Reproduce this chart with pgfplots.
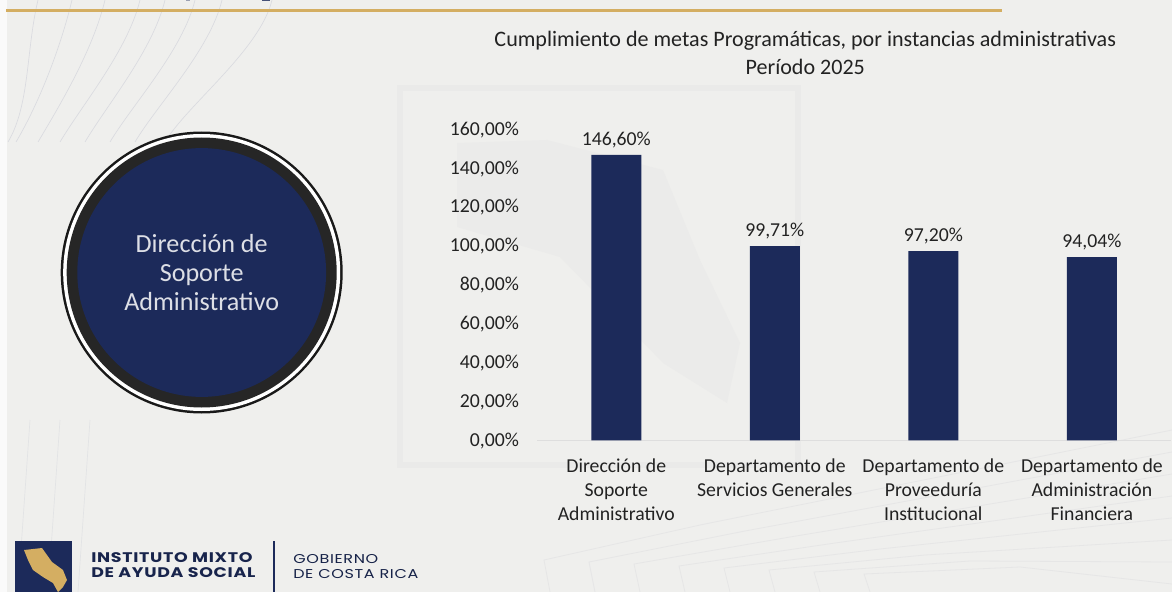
\documentclass[border=0pt]{standalone}
\usepackage{fontspec}
\setmainfont{Carlito}
\newfontfamily\logofont[LetterSpace=5,FakeStretch=1.25]{Poppins}
\usepackage{pgfplots}
\pgfplotsset{compat=1.18}
\definecolor{navy}{HTML}{1C2A5A}
\definecolor{paper}{HTML}{EFEFED}
\definecolor{gold}{HTML}{D4AE62}
\definecolor{ink}{HTML}{222222}
\definecolor{faint}{HTML}{E6E6E6}
\definecolor{strokegrey}{HTML}{DADBE0}
\begin{document}
\begin{tikzpicture}
% page, in pixels of the reference with y downwards
\begin{scope}[x=0.75pt,y=-0.75pt]
  \path[use as bounding box] (0,0) rectangle (1172,592);
  \fill[paper] (0,0) rectangle (1172,592);
  \fill[white!70!paper] (0,0) rectangle (7,592);
  % watermark
  \draw[faint!60!paper,line width=4pt] (400,88) rectangle (798,465);
  \fill[faint!40!paper] (457,143) -- (547,140) -- (663,170) -- (700,260) -- (740,343) -- (727,403) -- (663,363) -- (560,257) -- (457,227) -- cycle;
  % background strokes, top left
  \foreach \a/\b in {8/38,16/72,38/105,60/140,85/165,110/195,135/222,165/272}{
    \draw[strokegrey,line width=0.5pt] (\a,142) .. controls (\a+22,105) and (\b-12,50) .. (\b,0);
  }
  \foreach \i in {0,30,60}
    \draw[strokegrey!60!paper,line width=0.5pt] (30+\i,420) -- (18+\i,592);
  % background strokes, bottom right
  \foreach \i/\x in {0/550,1/595,2/640,3/685,4/730,5/775,6/820,7/870}{
    \draw[faint,line width=0.6pt] (\x,592) -- (\x-6,560+\i*2) -- (\x+150,525+\i*6) -- (1172,430+\i*22);
  }
  % gold rule and what is left of the heading above it
  \fill[gold] (6,9) rectangle (1002,12);
  \fill[navy!40!paper] (186,0) rectangle (190,1);
  \fill[navy!80!paper] (262,0) rectangle (270,1);
  % circle
  \fill[black!90] (201.7,272.5) circle (141);
  \fill[white] (201.7,272.5) circle (138.5);
  \fill[black!85] (201.7,272.5) circle (135);
  \fill[navy] (201.7,272.5) circle (124.4);
  \node[text=white!85!navy,font=\fontsize{19.6}{21.75}\selectfont,align=center] at (201.7,272.5) {Dirección de\\Soporte\\Administrativo};
  % logo
  \fill[navy] (15,541) rectangle (72,592);
  \begin{scope}
    \clip (15,541) rectangle (72,592);
    \fill[gold] (24,550) -- (42,548) -- (52,562) -- (63,570) -- (67,580) -- (63,587) -- (58,592) -- (53,583) -- (43,577) -- (33,570) -- (28,560) -- cycle;
  \end{scope}
  \draw[navy,line width=1pt] (274,541) -- (274,592);
  \node[anchor=west,inner sep=0pt,text=navy!85!black,align=left,font=\logofont\bfseries\fontsize{10.45}{11.25}\selectfont] at (91,565.5) {INSTITUTO MIXTO\\DE AYUDA SOCIAL};
  \node[anchor=west,inner sep=0pt,text=navy!80!black,align=left,font=\logofont\fontsize{9.6}{11.25}\selectfont] at (293,567) {GOBIERNO\\DE COSTA RICA};
\end{scope}
\begin{axis}[
  at={(402.75pt,-330.2pt)},
  anchor=south west,
  scale only axis,
  width=475.6pt,
  height=233.6pt,
  ybar,
  bar width=37.5pt,
  xmin=-0.5, xmax=3.5,
  ymin=0, ymax=160,
  ytick={0,20,...,160},
  xtick=data,
  xticklabels={Dirección de\\Soporte\\Administrativo,Departamento de\\Servicios Generales,Departamento de\\Proveeduría\\Institucional,Departamento de\\Administración\\Financiera},
  axis lines*=left,
  y axis line style={draw=none},
  x axis line style={draw=black!13,-},
  major tick length=0pt,
  /pgf/number format/assume math mode=true,
  /pgf/number format/fixed,
  /pgf/number format/fixed zerofill,
  /pgf/number format/precision=2,
  /pgf/number format/use comma,
  yticklabel={\pgfmathprintnumber{\tick}\%},
  tick label style={font=\fontsize{14.8}{18}\selectfont,text=ink},
  y tick label style={xshift=-10pt,yshift=-0.6pt},
  x tick label style={align=center,yshift=-10.5pt},
  nodes near coords={\pgfmathprintnumber{\pgfplotspointmeta}\%},
  every node near coord/.append style={font=\fontsize{14.8}{18}\selectfont,text=ink,yshift=1.5pt},
  title={Cumplimiento de metas Programáticas, por instancias administrativas\\Período 2025},
  title style={at={(axis description cs:0.423,1)},anchor=south,align=center,font=\fontsize{16.55}{21}\selectfont,text=ink,yshift=31pt},
]
\addplot[fill=navy,draw=none] coordinates {(0,146.60) (1,99.71) (2,97.20) (3,94.04)};
\end{axis}
\end{tikzpicture}
\end{document}
